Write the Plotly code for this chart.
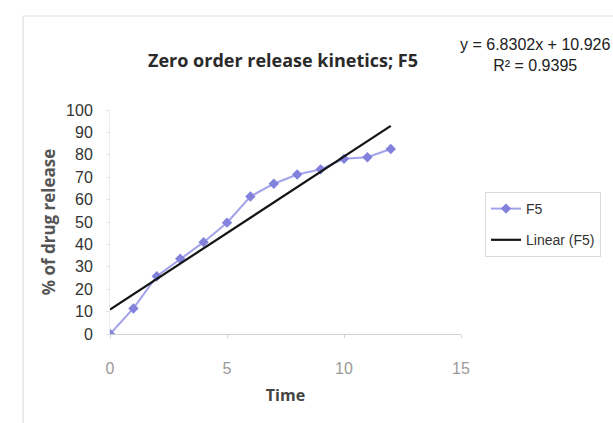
import plotly.graph_objects as go

# Cumulative drug release of formulation F5 over time
time = [0, 1, 2, 3, 4, 5, 6, 7, 8, 9, 10, 11, 12]
release_f5 = [0, 11.4, 25.8, 33.6, 41.0, 49.7, 61.4, 67.1, 71.2, 73.5, 78.2, 78.9, 82.6]

# Linear (zero order) trend fitted to F5
slope = 6.8302
intercept = 10.926
r_squared = 0.9395
trend_x = [0, 12]
trend_y = [slope * t + intercept for t in trend_x]

x_ticks = [0, 5, 10, 15]
y_ticks = [0, 10, 20, 30, 40, 50, 60, 70, 80, 90, 100]

W, H = 613, 423
L, R, T, B = 110, 461, 110, 334


def px(x):
    return (x - L) / (R - L)


def py(y):
    return (B - y) / (B - T)


fig = go.Figure()

fig.add_trace(go.Scatter(
    x=time, y=release_f5, mode="lines+markers", name="F5", legendgroup="a",
    line=dict(color="#a2a2ea", width=2),
    marker=dict(symbol="diamond", size=8, color="#8282dc"),
))

fig.add_trace(go.Scatter(
    x=trend_x, y=trend_y, mode="lines", name="Linear (F5)", legendgroup="b",
    line=dict(color="#151515", width=2.2),
))

text_family = "Liberation Sans, Arial, sans-serif"
head_family = "Open Sans, Liberation Sans, Arial, sans-serif"

fig.update_layout(
    width=W, height=H,
    margin=dict(l=L, r=W - R, t=T, b=H - B),
    paper_bgcolor="white", plot_bgcolor="white",
    font=dict(family=text_family, size=14, color="#333333"),
    title=dict(
        text="<b>Zero order release kinetics; F5</b>",
        x=px(283), xref="paper", xanchor="center",
        y=1 - 61 / H, yref="container", yanchor="middle",
        font=dict(family=head_family, size=18, color="#2a2a2a"),
    ),
    xaxis=dict(
        range=[0, 15], tickvals=x_ticks, showgrid=False, zeroline=False,
        showline=True, linecolor="#d2d2d2", linewidth=1,
        ticks="outside", ticklen=3, tickcolor="#d2d2d2",
        ticklabelstandoff=17,
        tickfont=dict(family=text_family, size=16, color="#9a9a9a"),
        title=dict(text="<b>Time</b>", standoff=13,
                   font=dict(family=head_family, size=16, color="#444444")),
    ),
    yaxis=dict(
        range=[0, 100], tickvals=y_ticks, showgrid=False, zeroline=False,
        showline=True, linecolor="#ececec", linewidth=1,
        ticks="outside", ticklen=3, tickcolor="#e4e4e4",
        ticklabelstandoff=10,
        tickfont=dict(family=text_family, size=16, color="#333333"),
        title=dict(text="<b>% of drug release</b>", standoff=6,
                   font=dict(family=head_family, size=17, color="#555555")),
    ),
    legend=dict(
        x=px(485), y=py(192), xanchor="left", yanchor="top",
        bordercolor="#dadada", borderwidth=1, bgcolor="white",
        font=dict(family=text_family, size=14, color="#333333"),
        itemwidth=30, tracegroupgap=10,
    ),
    showlegend=True,
)

# Equation of the fitted line
fig.add_annotation(
    text=f"y = {slope}x + {intercept}<br>R² = {r_squared}",
    xref="paper", yref="paper", x=px(535), y=py(55),
    xanchor="center", yanchor="middle", showarrow=False,
    font=dict(family=text_family, size=16, color="#222222"),
    align="center",
)

# Chart area frame
fig.add_shape(type="line", xref="paper", yref="paper",
              x0=px(23), x1=px(613), y0=py(16), y1=py(16),
              line=dict(color="#ececec", width=1.5))
fig.add_shape(type="line", xref="paper", yref="paper",
              x0=px(23), x1=px(23), y0=py(16), y1=py(423),
              line=dict(color="#e4e4e4", width=1.5))

fig.write_html("out.html")
